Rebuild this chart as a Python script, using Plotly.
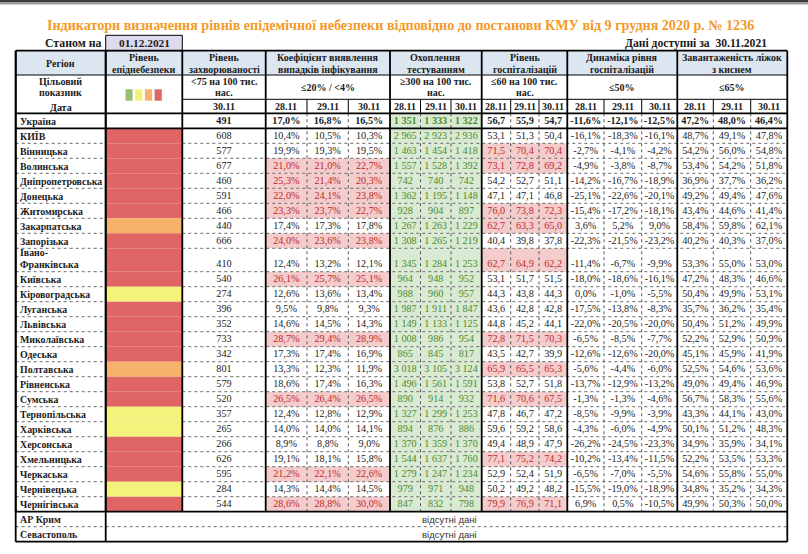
import plotly.graph_objects as go

# %% data
title = "Індикатори визначення рівнів епідемічної небезпеки відповідно до постанови КМУ від 9 грудня 2020 р. № 1236"
report_date = "01.12.2021"
data_date = "30.11.2021"
dates = ["28.11", "29.11", "30.11"]

regions = ["Україна", "КИЇВ", "Вінницька", "Волинська", "Дніпропетровська", "Донецька",
           "Житомирська", "Закарпатська", "Запорізька", "Івано-<br>Франківська", "Київська",
           "Кіровоградська", "Луганська", "Львівська", "Миколаївська", "Одеська", "Полтавська",
           "Рівненська", "Сумська", "Тернопільська", "Харківська", "Херсонська", "Хмельницька",
           "Черкаська", "Чернівецька", "Чернігівська"]
epi_level = [None, "red", "red", "red", "red", "red", "red", "orange", "red", "red", "red",
             "yellow", "red", "red", "red", "red", "orange", "red", "red", "yellow", "yellow",
             "red", "red", "red", "yellow", "red"]
incidence = [491, 608, 577, 677, 460, 591, 466, 440, 666, 410, 540, 274, 396, 352, 733, 342,
             801, 579, 520, 357, 265, 266, 626, 595, 284, 544]
coef_28 = [17.0, 10.4, 19.9, 21.0, 25.3, 22.0, 23.3, 17.4, 24.0, 12.4, 26.1, 12.6, 9.5, 14.6,
           28.7, 17.3, 13.3, 18.6, 26.5, 12.4, 14.0, 8.9, 19.1, 21.2, 14.3, 28.6]
coef_29 = [16.8, 10.5, 19.3, 21.0, 21.4, 24.1, 23.7, 17.3, 23.6, 13.2, 25.7, 13.6, 9.8, 14.5,
           29.4, 17.4, 12.3, 17.4, 26.4, 12.8, 14.0, 8.8, 18.1, 22.1, 14.4, 28.8]
coef_30 = [16.5, 10.3, 19.5, 22.7, 20.3, 23.8, 22.7, 17.8, 23.8, 12.1, 25.1, 13.4, 9.3, 14.3,
           28.9, 16.9, 11.9, 16.3, 26.5, 12.9, 14.1, 9.0, 15.8, 22.6, 14.5, 30.0]
test_28 = [1351, 2965, 1463, 1557, 742, 1362, 928, 1267, 1308, 1345, 964, 988, 1987, 1149, 1008,
           865, 3018, 1496, 890, 1327, 894, 1370, 1544, 1279, 979, 847]
test_29 = [1333, 2923, 1454, 1528, 740, 1195, 904, 1263, 1265, 1284, 948, 960, 1911, 1133, 986,
           845, 3105, 1561, 914, 1299, 876, 1359, 1637, 1247, 971, 832]
test_30 = [1322, 2936, 1418, 1392, 742, 1148, 897, 1229, 1219, 1253, 952, 957, 1847, 1125, 954,
           817, 3124, 1591, 932, 1253, 886, 1370, 1760, 1234, 948, 798]
hosp_28 = [56.7, 53.1, 71.5, 73.1, 54.2, 47.1, 76.0, 62.7, 40.4, 62.7, 53.1, 44.3, 43.6, 44.8,
           72.8, 43.5, 65.9, 53.8, 71.6, 47.8, 59.6, 49.4, 77.1, 52.9, 50.2, 79.9]
hosp_29 = [55.9, 51.3, 70.4, 72.8, 52.7, 47.1, 73.8, 63.3, 39.8, 64.9, 51.7, 43.8, 42.8, 45.2,
           71.5, 42.7, 65.5, 52.7, 70.6, 46.7, 59.2, 48.9, 75.2, 52.4, 49.2, 76.9]
hosp_30 = [54.7, 50.4, 70.4, 69.2, 51.1, 46.8, 72.3, 65.0, 37.8, 62.2, 51.5, 44.3, 42.8, 44.1,
           70.3, 39.9, 65.3, 51.8, 67.5, 47.2, 58.6, 47.9, 74.2, 51.9, 48.2, 71.1]
dyn_28 = [-11.6, -16.1, -2.7, -4.9, -14.2, -25.1, -15.4, 3.6, -22.3, -11.4, -18.0, 0.0, -17.5,
          -22.0, -6.5, -12.6, -5.6, -13.7, -1.3, -8.5, -4.3, -26.2, -10.2, -6.5, -15.5, 6.9]
dyn_29 = [-12.1, -18.3, -4.1, -3.8, -16.7, -22.6, -17.2, 5.2, -21.5, -6.7, -18.6, -1.0, -13.8,
          -20.5, -8.5, -12.6, -4.4, -12.9, -1.3, -9.9, -6.0, -24.5, -13.4, -7.0, -19.0, 0.5]
dyn_30 = [-12.5, -16.1, -4.2, -8.7, -18.9, -20.1, -18.1, 9.0, -23.2, -9.9, -16.1, -5.5, -8.3,
          -20.0, -7.7, -20.0, -6.0, -13.2, -4.6, -3.9, -4.9, -23.3, -11.5, -5.5, -18.9, -10.5]
beds_28 = [47.2, 48.7, 54.2, 53.4, 36.9, 49.2, 43.4, 58.4, 40.2, 53.3, 47.2, 50.4, 35.7, 50.4,
           52.2, 45.1, 52.5, 49.0, 56.7, 43.3, 50.1, 34.9, 52.2, 54.6, 34.8, 49.9]
beds_29 = [48.0, 49.1, 56.0, 54.2, 37.7, 49.4, 44.6, 59.8, 40.3, 55.0, 48.3, 49.9, 36.2, 51.2,
           52.9, 45.9, 54.6, 49.4, 58.3, 44.1, 51.2, 35.9, 53.5, 55.8, 35.2, 50.3]
beds_30 = [46.4, 47.8, 54.8, 51.8, 36.2, 47.6, 41.4, 62.1, 37.0, 53.0, 46.6, 53.1, 35.4, 49.9,
           50.9, 41.9, 53.6, 46.9, 55.6, 43.0, 48.3, 34.1, 53.3, 55.0, 34.3, 50.0]
missing_regions = ["АР Крим", "Севастополь"]
missing_text = "відсутні дані"

group_titles = [["Регіон"], ["Рівень", "епіднебезпеки"], ["Рівень", "захворюваності"],
                ["Коефіцієнт виявлення", "випадків інфікування"], ["Охоплення", "тестуванням"],
                ["Рівень", "госпіталізацій"], ["Динаміка рівня", "госпіталізацій"],
                ["Завантаженість ліжок", "з киснем"]]
targets = [["&lt;75 на 100 тис.", "нас."], ["≤20% / &lt;4%"], ["≥300 на 100 тис.", "нас."],
           ["≤60 на 100 тис.", "нас."], ["≤50%"], ["≤65%"]]

# %% layout / style
FONT = "Liberation Serif"
TXT = "#1b1b1b"
level_colors = {"green": "#9BBF72", "yellow": "#F3F27A", "orange": "#F6B26B", "red": "#E06666"}
PINK, PINK_TXT = "#F4CCCC", "#C0282D"
GREEN, GREEN_TXT = "#D9EAD3", "#4E8A2A"
HEAD_BLUE = "#DCE6F1"

x_edges = [15.7, 105.7, 182.3, 265.7, 307, 348.3, 390, 420.5, 451, 481.7, 510.7, 539, 567.3,
           604, 641.7, 677.3, 713.3, 750.7, 787.3]
groups = [(0, 1), (1, 2), (2, 3), (3, 6), (6, 9), (9, 12), (12, 15), (15, 18)]
y_top, y_h1, y_tg, y_dt = 50.7, 75.0, 99.3, 113.3

row_h = [15.0] * len(regions)
row_h[regions.index("Івано-<br>Франківська")] = 23.4
row_edges = [y_dt]
for h in row_h:
    row_edges.append(row_edges[-1] + h)
miss_edges = [row_edges[-1]]
for _ in missing_regions:
    miss_edges.append(miss_edges[-1] + 15.0)
y_bot = miss_edges[-1]
text_y = [b - 7.0 for b in row_edges[1:]]

def cx(i):
    return (x_edges[i] + x_edges[i + 1]) / 2

def fmt_int(v):
    return f"{v:,}".replace(",", " ")

def fmt_dec(v):
    return f"{v:.1f}".replace(".", ",")

def fmt_pct(v):
    return fmt_dec(v) + "%"

shapes = []
annotations = []

def rect(x0, x1, y0, y1, fill, line=None):
    shapes.append(dict(type="rect", xref="x", yref="y", x0=x0, x1=x1, y0=y0, y1=y1,
                       fillcolor=fill, line=line or dict(width=0), layer="below"))

def seg(x0, y0, x1, y1, width=1.0, dash="solid", color="black"):
    shapes.append(dict(type="line", xref="x", yref="y", x0=x0, y0=y0, x1=x1, y1=y1,
                       line=dict(color=color, width=width, dash=dash)))

def label(x, y, text, size=10, bold=True, color=TXT, anchor="center", family=FONT):
    annotations.append(dict(x=x, y=y, xref="x", yref="y", text=f"<b>{text}</b>" if bold else text,
                            showarrow=False, xanchor=anchor, yanchor="middle",
                            font=dict(family=family, size=size, color=color)))

# value columns: (values, formatter, fill rule)
columns = [
    (incidence, fmt_int, None),
    (coef_28, fmt_pct, lambda v: v > 20), (coef_29, fmt_pct, lambda v: v > 20), (coef_30, fmt_pct, lambda v: v > 20),
    (test_28, fmt_int, lambda v: v >= 300), (test_29, fmt_int, lambda v: v >= 300), (test_30, fmt_int, lambda v: v >= 300),
    (hosp_28, fmt_dec, lambda v: v > 60), (hosp_29, fmt_dec, lambda v: v > 60), (hosp_30, fmt_dec, lambda v: v > 60),
    (dyn_28, fmt_pct, None), (dyn_29, fmt_pct, None), (dyn_30, fmt_pct, None),
    (beds_28, fmt_pct, None), (beds_29, fmt_pct, None), (beds_30, fmt_pct, None),
]

# %% fills
rect(0, 808, 0, 2.5, "#3c3c3c")
rect(0, 808, 2.5, 4.5, "#9a9a9a")
rect(x_edges[0], x_edges[-1], y_top, y_h1, HEAD_BLUE)
rect(x_edges[1], x_edges[2], 35.3, y_top, "#DFDAEE", dict(color="black", width=1))

for r, lvl in enumerate(epi_level):
    if lvl:
        rect(x_edges[1], x_edges[2], row_edges[r], row_edges[r + 1], level_colors[lvl])

fig = go.Figure()
for c, (vals, fmt, rule) in enumerate(columns):
    ci = c + 2
    colors = []
    for r, v in enumerate(vals):
        col = TXT
        if rule is not None and rule(v):
            testing = 6 <= ci <= 8
            rect(x_edges[ci], x_edges[ci + 1], row_edges[r], row_edges[r + 1],
                 GREEN if testing else PINK)
            col = GREEN_TXT if testing else PINK_TXT
        colors.append(col)
    texts = [fmt(v) for v in vals]
    texts[0] = f"<b>{texts[0]}</b>"
    fig.add_trace(go.Scatter(x=[cx(ci)] * len(vals), y=text_y, text=texts, mode="text",
                             textposition="middle center", hoverinfo="skip",
                             textfont=dict(family=FONT, size=10.2, color=colors)))

# legend squares in the target cell
sq_mid = cx(1)
for k, name in enumerate(["green", "yellow", "orange", "red"]):
    x0 = sq_mid - 18.5 + k * 9.7
    rect(x0, x0 + 7.2, 89.3, 100.7, level_colors[name])

# %% grid lines
thin, thick = 1.0, 1.8
for r in range(1, len(regions) - 1):
    y = row_edges[r + 1]
    seg(x_edges[0], y, x_edges[1], y, 1, "dot", "#6a6a6a")
    seg(x_edges[2], y, x_edges[-1], y, 1, "dot", "#6a6a6a")
seg(x_edges[0], miss_edges[1], x_edges[-1], miss_edges[1], 1, "dot", "#6a6a6a")

for g0, g1 in groups[3:]:
    for i in range(g0 + 1, g1):
        seg(x_edges[i], y_tg, x_edges[i], y_dt, thin)
        seg(x_edges[i], y_dt, x_edges[i], row_edges[-1], 1, "dot", "#555")

seg(x_edges[2], y_tg, x_edges[-1], y_tg, thin)
seg(x_edges[0], y_h1, x_edges[-1], y_h1, thin)
for y in [y_top, y_dt, row_edges[1], row_edges[-1], y_bot]:
    seg(x_edges[0], y, x_edges[-1], y, thick)
for g0, g1 in groups:
    seg(x_edges[g0], y_top, x_edges[g0], row_edges[-1], thick)
for x in [x_edges[0], x_edges[1], x_edges[-1]]:
    seg(x, y_top, x, y_bot, thick)

# %% texts
label(400.5, 24.5, title, size=14.1, color="#F39A27")
label(102.5, 43.3, "Станом на", size=11.8, anchor="right")
label(cx(1), 43.3, report_date, size=11.3)
label(769, 43.3, f"Дані доступні за  {data_date}", size=11.6, anchor="right")

for (g0, g1), lines in zip(groups, group_titles):
    mid = (x_edges[g0] + x_edges[g1]) / 2
    if len(lines) == 1:
        label(mid, 63.3, lines[0])
    else:
        label(mid, 57.4, lines[0])
        label(mid, 69.0, lines[1])

label(cx(0), 81.2, "Цільовий")
label(cx(0), 92.8, "показник")
label(cx(0), 107.0, "Дата")
for (g0, g1), lines in zip(groups[2:], targets):
    mid = (x_edges[g0] + x_edges[g1]) / 2
    if len(lines) == 1:
        label(mid, 87.3, lines[0])
    else:
        label(mid, 81.5, lines[0])
        label(mid, 92.8, lines[1])
label(cx(2), 106.8, dates[-1])
for g0, g1 in groups[3:]:
    for k, d in enumerate(dates):
        label(cx(g0 + k), 106.8, d)

for r, name in enumerate(regions):
    if "<br>" in name:
        top, bottom = name.split("<br>")
        label(17.5, text_y[r] - 12, top, size=9.9, anchor="left")
        label(17.5, text_y[r], bottom, size=9.9, anchor="left")
    else:
        label(17.5, text_y[r], name, size=9.9, anchor="left")

for k, name in enumerate(missing_regions):
    y = miss_edges[k + 1] - 7.0
    label(17.5, y, name, size=9.9, anchor="left")
    label(419.5, y, missing_text, size=9.5, bold=False, color="#333", anchor="left",
          family="Liberation Sans")

fig.update_layout(
    width=808, height=554, margin=dict(l=0, r=0, t=0, b=0),
    paper_bgcolor="white", plot_bgcolor="white", showlegend=False,
    xaxis=dict(range=[0, 808], visible=False, fixedrange=True),
    yaxis=dict(range=[554, 0], visible=False, fixedrange=True),
    shapes=shapes, annotations=annotations,
)

fig.write_html("out.html", config={"displayModeBar": False},
               post_script="document.body.style.margin='0';")
